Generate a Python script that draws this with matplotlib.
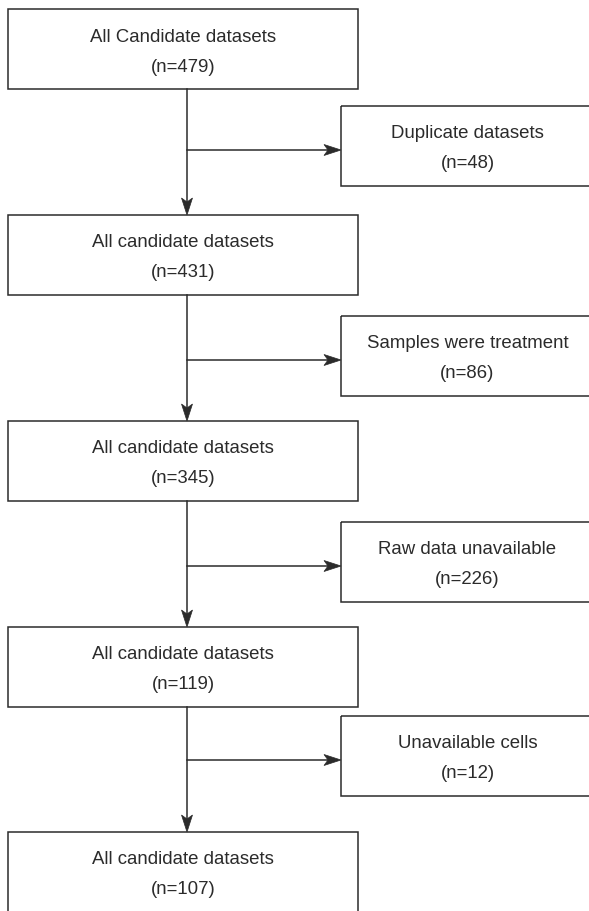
import matplotlib.pyplot as plt
from matplotlib.patches import Rectangle, Polygon

# flowchart content
main_labels = ["All Candidate datasets", "All candidate datasets", "All candidate datasets",
               "All candidate datasets", "All candidate datasets"]
main_counts = [479, 431, 345, 119, 107]
excl_labels = ["Duplicate datasets", "Samples were treatment", "Raw data unavailable",
               "Unavailable cells"]
excl_counts = [48, 86, 226, 12]

# layout in pixel units (y downwards)
W, H = 589, 912
main_x0, main_x1 = 8, 358
main_tops = [10, 216, 422, 628, 833]
box_h = 80
side_x0, side_x1 = 341, 594
side_tops = [107, 317, 523, 717]
spine_x = 187
col = "#2b2b2b"
lw = 1.1
fs = 13.4

plt.rcParams["font.family"] = ["Liberation Sans", "DejaVu Sans"]

fig = plt.figure(figsize=(W / 100, H / 100), dpi=100)
ax = fig.add_axes([0, 0, 1, 1])
ax.set_xlim(0, W)
ax.set_ylim(H, 0)
ax.axis("off")


def box(x0, x1, top, h, line1, line2):
    ax.add_patch(Rectangle((x0, top), x1 - x0, h, fill=False, edgecolor=col, lw=lw,
                           clip_on=True))
    cx = (x0 + x1) / 2
    ax.text(cx, top + 27, line1, ha="center", va="center", fontsize=fs, color=col)
    ax.text(cx, top + 57, line2, ha="center", va="center", fontsize=fs, color=col)


def head(tx, ty, direction):
    # notched arrowhead, tip at (tx, ty)
    L, w, notch = 17, 5.5, 4
    if direction == "down":
        pts = [(tx, ty), (tx - w, ty - L), (tx, ty - L + notch), (tx + w, ty - L)]
    else:
        pts = [(tx, ty), (tx - L, ty - w), (tx - L + notch, ty), (tx - L, ty + w)]
    ax.add_patch(Polygon(pts, closed=True, facecolor=col, edgecolor=col, lw=0.5))


for i, (lab, n) in enumerate(zip(main_labels, main_counts)):
    box(main_x0, main_x1, main_tops[i], box_h, lab, f"(n={n})")

for i, (lab, n) in enumerate(zip(excl_labels, excl_counts)):
    box(side_x0, side_x1, side_tops[i], box_h, lab, f"(n={n})")
    y0 = main_tops[i] + box_h
    y1 = main_tops[i + 1]
    ax.plot([spine_x, spine_x], [y0, y1 - 10], color=col, lw=lw)
    head(spine_x, y1, "down")
    ay = side_tops[i] + 44
    ax.plot([spine_x, side_x0 - 10], [ay, ay], color=col, lw=lw)
    head(side_x0, ay, "right")

fig.savefig("out.png", dpi=100, facecolor="white")
